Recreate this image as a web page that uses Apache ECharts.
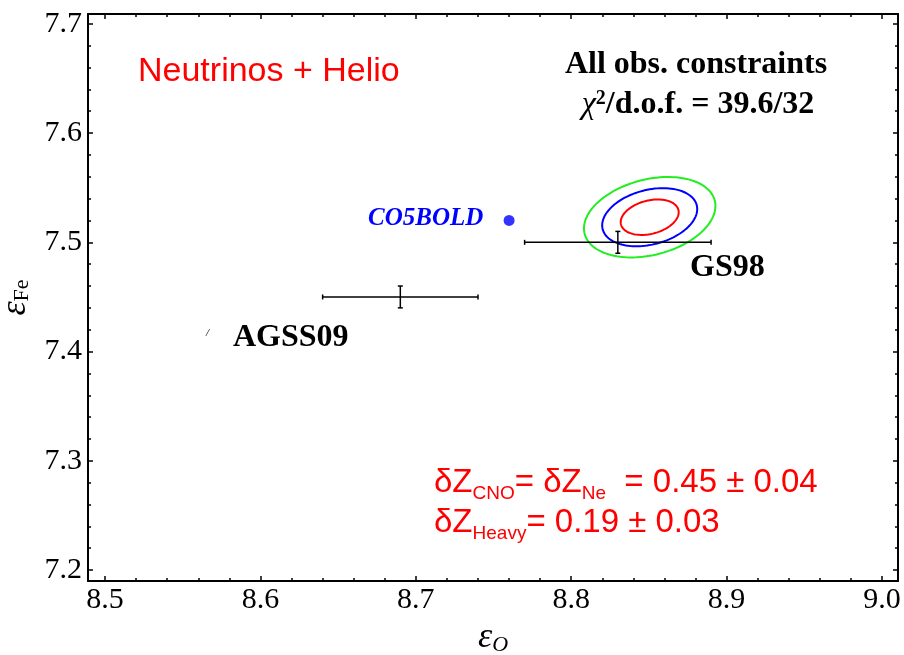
<!DOCTYPE html>
<html>
<head>
<meta charset="utf-8">
<title>Solar abundances: oxygen vs iron</title>
<script src="https://cdn.jsdelivr.net/npm/echarts@6/dist/echarts.min.js"></script>
<style>
  html, body { margin: 0; padding: 0; background: #fff; }
  #chart { width: 904px; height: 655px; }
</style>
</head>
<body>
<div id="chart"></div>
<script>
// Axis extents (log abundance scale)
const xRange = [8.489, 9.0103];
const yRange = [7.19, 7.709];

// Labelled tick values
const xTicks = [8.5, 8.6, 8.7, 8.8, 8.9, 9.0];
const yTicks = [7.2, 7.3, 7.4, 7.5, 7.6, 7.7];

// Reference solar compositions with uncertainties
const refNames = ['GS98', 'AGSS09'];
const refO = [8.83, 8.69];
const refOErr = [0.06, 0.05];
const refFe = [7.50, 7.45];
const refFeErr = [0.01, 0.01];

// 3D model atmosphere point
const co5boldO = [8.76];
const co5boldFe = [7.52];

// Best-fit region: centre, widths, correlation and delta-chi2 levels
const fitCenter = [8.8505, 7.523];
const fitSigma = [0.0123, 0.0107];
const fitRho = 0.28;
const contourLevels = [2.30, 6.18, 11.83];
const contourColors = ['#ff0000', '#0000ff', '#22ee22'];

const SERIF = '"Liberation Serif", "Times New Roman", serif';
const SANS = '"Liberation Sans", Arial, sans-serif';

function minorOf(majors, step) {
  const out = [];
  for (let i = 0; i < majors.length - 1; i++) {
    for (let k = 1; k < 5; k++) out.push(+(majors[i] + k * step).toFixed(3));
  }
  return out;
}
const xMinor = minorOf(xTicks, 0.02);
const yMinor = minorOf(yTicks, 0.02);

const lineStyle = { color: '#000', width: 2 };

function makeAxis(kind, pos, ticks, isMinor, withLabels, extra) {
  const range = kind === 'x' ? xRange : yRange;
  return Object.assign({
    type: 'value',
    position: pos,
    min: range[0],
    max: range[1],
    axisLine: { show: !isMinor, onZero: false, lineStyle: lineStyle },
    axisTick: {
      show: true, inside: true, length: isMinor ? 3 : 5,
      customValues: ticks,
      lineStyle: { color: '#000', width: 1.5 }
    },
    axisLabel: withLabels ? {
      show: true, customValues: ticks,
      formatter: v => v.toFixed(1),
      fontFamily: SERIF, fontSize: 30, color: '#000',
      margin: kind === 'x' ? 4 : 6
    } : { show: false },
    splitLine: { show: false }
  }, extra || {});
}

const chart = echarts.init(document.getElementById('chart'), null, { renderer: 'canvas' });

const errorData = refNames.map((n, i) => [refO[i], refFe[i], refOErr[i], refFeErr[i]]);
const contourData = contourLevels.map((lv, i) => [lv, i]);

chart.setOption({
  animation: false,
  backgroundColor: '#fff',
  grid: { left: 88, right: 6, top: 14, bottom: 74, containLabel: false, outerBoundsMode: 'none' },
  xAxis: [
    makeAxis('x', 'bottom', xTicks, false, true, {
      name: '{e|ε}{s|O}',
      nameLocation: 'middle',
      nameGap: 38,
      nameTextStyle: {
        rich: {
          e: { fontFamily: SERIF, fontStyle: 'italic', fontSize: 36, color: '#000', lineHeight: 36 },
          s: { fontFamily: SERIF, fontStyle: 'italic', fontSize: 22, color: '#000', lineHeight: 14, verticalAlign: 'bottom' }
        }
      }
    }),
    makeAxis('x', 'bottom', xMinor, true, false),
    makeAxis('x', 'top', xTicks, false, false),
    makeAxis('x', 'top', xMinor, true, false)
  ],
  yAxis: [
    makeAxis('y', 'left', yTicks, false, true, {
      name: '{e|ε}{s|Fe}',
      nameLocation: 'middle',
      nameGap: 48,
      nameRotate: 90,
      nameTextStyle: {
        rich: {
          e: { fontFamily: SERIF, fontStyle: 'italic', fontSize: 36, color: '#000', lineHeight: 36 },
          s: { fontFamily: SERIF, fontSize: 22, color: '#000', lineHeight: 14, verticalAlign: 'bottom' }
        }
      }
    }),
    makeAxis('y', 'left', yMinor, true, false),
    makeAxis('y', 'right', yTicks, false, false),
    makeAxis('y', 'right', yMinor, true, false)
  ],
  series: [
    {
      // confidence contours of the fit
      type: 'custom',
      xAxisIndex: 0, yAxisIndex: 0,
      data: contourData,
      silent: true,
      renderItem: function (params, api) {
        const level = api.value(0);
        const idx = api.value(1);
        const k = Math.sqrt(level);
        const pts = [];
        const n = 120;
        const s = Math.sqrt(1 - fitRho * fitRho);
        for (let j = 0; j <= n; j++) {
          const t = 2 * Math.PI * j / n;
          const dx = fitSigma[0] * k * Math.cos(t);
          const dy = fitSigma[1] * k * (fitRho * Math.cos(t) + s * Math.sin(t));
          pts.push(api.coord([fitCenter[0] + dx, fitCenter[1] + dy]));
        }
        return {
          type: 'polygon',
          shape: { points: pts },
          style: { fill: 'none', stroke: contourColors[idx], lineWidth: 2 }
        };
      }
    },
    {
      // reference compositions with error bars
      type: 'custom',
      xAxisIndex: 0, yAxisIndex: 0,
      data: errorData,
      silent: true,
      renderItem: function (params, api) {
        const x = api.value(0), y = api.value(1), ex = api.value(2), ey = api.value(3);
        const L = api.coord([x - ex, y]);
        const R = api.coord([x + ex, y]);
        const T = api.coord([x, y + ey]);
        const B = api.coord([x, y - ey]);
        const st = { stroke: '#000', lineWidth: 1.5 };
        const capH = 2.5, capW = 2.5;
        return {
          type: 'group',
          children: [
            { type: 'line', shape: { x1: L[0], y1: L[1], x2: R[0], y2: R[1] }, style: st },
            { type: 'line', shape: { x1: T[0], y1: T[1], x2: B[0], y2: B[1] }, style: st },
            { type: 'line', shape: { x1: L[0], y1: L[1] - capH, x2: L[0], y2: L[1] + capH }, style: st },
            { type: 'line', shape: { x1: R[0], y1: R[1] - capH, x2: R[0], y2: R[1] + capH }, style: st },
            { type: 'line', shape: { x1: T[0] - capW, y1: T[1], x2: T[0] + capW, y2: T[1] }, style: st },
            { type: 'line', shape: { x1: B[0] - capW, y1: B[1], x2: B[0] + capW, y2: B[1] }, style: st }
          ]
        };
      }
    },
    {
      type: 'scatter',
      xAxisIndex: 0, yAxisIndex: 0,
      data: co5boldO.map((v, i) => [v, co5boldFe[i]]),
      symbol: 'circle',
      symbolSize: 11,
      itemStyle: { color: '#0000ff' },
      silent: true
    }
  ],
  graphic: [
    {
      type: 'text', left: 138, top: 55,
      style: { text: 'Neutrinos + Helio', fill: '#ff0000', font: '34px ' + SANS }
    },
    {
      type: 'text', x: 696, y: 65,
      style: { text: 'All obs. constraints', fill: '#000', font: 'bold 32px ' + SERIF, align: 'center', verticalAlign: 'middle' }
    },
    {
      type: 'text', x: 698, y: 89,
      style: {
        text: '{i|χ}{sup|2}{b|/d.o.f. = 39.6/32}',
        align: 'center', verticalAlign: 'top',
        rich: {
          i: { fontFamily: SERIF, fontStyle: 'italic', fontSize: 32, fill: '#000', lineHeight: 32 },
          sup: { fontFamily: SERIF, fontWeight: 'bold', fontSize: 20, fill: '#000', lineHeight: 20, verticalAlign: 'top' },
          b: { fontFamily: SERIF, fontWeight: 'bold', fontSize: 32, fill: '#000', lineHeight: 32 }
        }
      }
    },
    {
      type: 'text', x: 368, y: 219,
      style: { text: 'CO5BOLD', fill: '#0000ff', font: 'italic bold 25px ' + SERIF, verticalAlign: 'middle' }
    },
    {
      type: 'text', x: 690, y: 268,
      style: { text: 'GS98', fill: '#000', font: 'bold 32px ' + SERIF, verticalAlign: 'middle' }
    },
    {
      type: 'text', x: 233, y: 338,
      style: { text: 'AGSS09', fill: '#000', font: 'bold 32px ' + SERIF, verticalAlign: 'middle' }
    },
    {
      type: 'text', x: 206, y: 333,
      style: { text: '/', fill: '#000', font: 'italic 11px ' + SERIF, verticalAlign: 'middle' }
    },
    {
      type: 'text', x: 434, y: 463,
      style: {
        text: '{d|δZ}{s|CNO}{d|= δZ}{s|Ne}{d|  = 0.45 ± 0.04}',
        verticalAlign: 'top',
        rich: {
          d: { fontFamily: SANS, fontSize: 33, fill: '#ff0000', lineHeight: 40 },
          s: { fontFamily: SANS, fontSize: 19, fill: '#ff0000', lineHeight: 16, verticalAlign: 'bottom' }
        }
      }
    },
    {
      type: 'text', x: 434, y: 503,
      style: {
        text: '{d|δZ}{s|Heavy}{d|= 0.19 ± 0.03}',
        verticalAlign: 'top',
        rich: {
          d: { fontFamily: SANS, fontSize: 33, fill: '#ff0000', lineHeight: 40 },
          s: { fontFamily: SANS, fontSize: 19, fill: '#ff0000', lineHeight: 16, verticalAlign: 'bottom' }
        }
      }
    }
  ]
});
</script>
</body>
</html>
